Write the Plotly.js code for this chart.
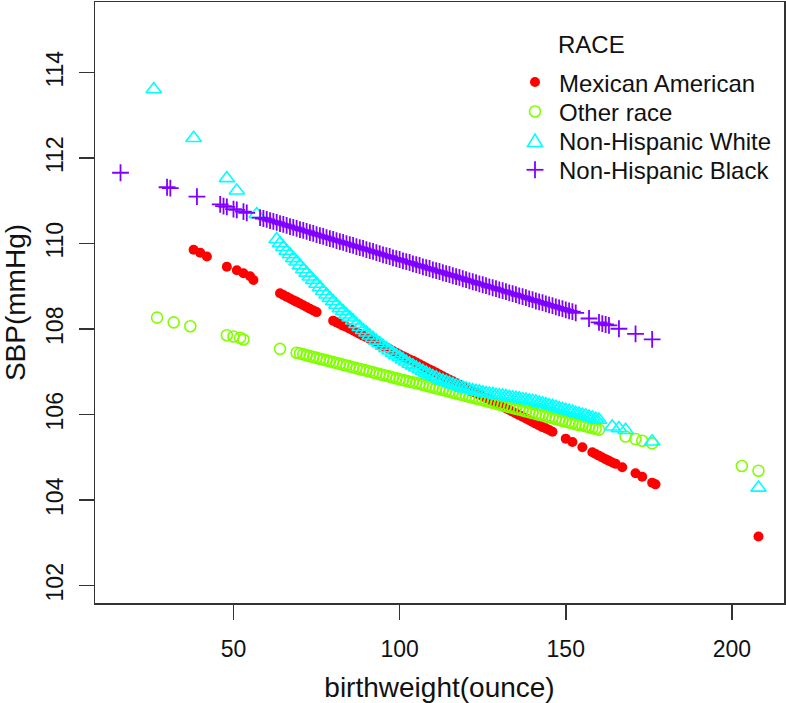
<!DOCTYPE html>
<html>
<head>
<meta charset="utf-8">
<script src="https://cdn.plot.ly/plotly-3.0.1.min.js"></script>
<style>
html,body{margin:0;padding:0;background:#fff;}
#chart{width:786px;height:703px;}
</style>
</head>
<body>
<div id="chart"></div>
<script>
// ---- data ----
const seriesNames = ["Mexican American", "Other race", "Non-Hispanic White", "Non-Hispanic Black"];
const legendTitle = "RACE";
const xTicks = [50, 100, 150, 200];
const yTicks = [102, 104, 106, 108, 110, 112, 114];

const mexX = [38,40,42,48,51,53,55,56,64,65,66,67,68,69,70,71,72,73,74,75,
  80,81,82,83,84,85,86,87,88,89,90,91,92,93,94,95,96,97,98,99,
  100,101,102,103,104,105,106,107,108,109,110,111,112,113,114,115,116,117,118,119,
  120,121,122,123,124,125,126,127,128,129,130,131,132,133,134,135,136,137,138,139,
  140,141,142,143,144,145,146,150,152,155,158,159,160,161,162,163,164,165,167,171,173,176,177,208];
const mexY = [109.86,109.79,109.70,109.46,109.38,109.31,109.24,109.15,108.84,108.80,108.76,108.72,108.68,108.64,108.60,108.56,108.52,108.48,108.44,108.40,
  108.20,108.16,108.12,108.08,108.05,108.01,107.97,107.93,107.89,107.85,
  107.81,107.77,107.73,107.69,107.65,107.61,107.57,107.53,107.49,107.45,
  107.41,107.37,107.33,107.29,107.26,107.22,107.18,107.14,107.10,107.06,
  107.02,106.98,106.94,106.90,106.86,106.82,106.78,106.74,106.70,106.66,
  106.62,106.58,106.54,106.50,106.47,106.43,106.39,106.35,106.31,106.27,
  106.23,106.19,106.15,106.11,106.07,106.03,105.99,105.95,105.91,105.87,
  105.83,105.79,105.75,105.71,105.68,105.64,105.60,
  105.44,105.36,105.24,105.12,105.08,105.04,105.00,104.96,104.92,104.88,104.85,104.77,104.63,104.55,104.41,104.37,103.15];

const otherX = [27,32,37,48,50,52,53,64,
  69,70,71,72,73,74,75,76,77,78,79,80,81,82,83,84,85,86,87,88,89,90,91,92,93,94,95,96,97,98,99,
  100,101,102,103,104,105,106,107,108,109,110,111,112,113,114,115,116,117,118,119,
  120,121,122,123,124,125,126,127,128,129,130,131,132,133,134,135,136,137,138,139,
  140,141,142,143,144,145,146,147,148,149,150,151,152,153,154,155,156,157,158,159,160,
  168,171,173,176,203,208];
const otherY = [108.27,108.16,108.07,107.86,107.83,107.80,107.76,107.54,
  107.45,107.43,107.41,107.39,107.37,107.35,107.33,107.31,107.29,107.27,
  107.25,107.23,107.21,107.19,107.17,107.15,107.13,107.11,107.09,107.07,
  107.05,107.03,107.01,106.99,106.97,106.95,106.93,106.91,106.89,106.87,
  106.85,106.83,106.81,106.79,106.77,106.76,106.74,106.72,106.70,106.68,
  106.66,106.64,106.62,106.60,106.58,106.56,106.54,106.52,106.50,106.48,
  106.46,106.44,106.42,106.40,106.38,106.36,106.34,106.32,106.30,106.28,
  106.26,106.24,106.22,106.20,106.18,106.16,106.14,106.12,106.10,106.08,
  106.06,106.04,106.02,106.00,105.98,105.96,105.94,105.92,105.90,105.88,
  105.86,105.84,105.82,105.80,105.78,105.76,105.75,105.73,105.71,105.69,
  105.67,105.65,
  105.49,105.43,105.39,105.33,104.80,104.69];

const whiteX = [26,38,48,51,57,
  63,64,65,66,67,68,69,70,71,72,73,74,75,76,77,78,79,80,81,82,83,84,85,86,87,88,89,90,91,92,93,94,95,96,97,98,99,
  100,101,102,103,104,105,106,107,108,109,110,111,112,113,114,115,116,117,118,119,
  120,121,122,123,124,125,126,127,128,129,130,131,132,133,134,135,136,137,138,139,
  140,141,142,143,144,145,146,147,148,149,150,151,152,153,154,155,156,157,158,159,160,
  164,166,168,176,208];
const whiteY = [113.61,112.47,111.53,111.24,110.69,
  110.10,110.01,109.92,109.83,109.75,109.66,109.58,109.49,109.40,109.32,
  109.23,109.15,109.06,108.98,108.89,108.81,108.73,108.65,108.57,108.49,
  108.42,108.34,108.27,108.20,108.12,108.05,107.98,107.92,107.85,107.79,
  107.73,107.67,107.61,107.55,107.50,107.44,107.39,107.34,107.29,107.24,
  107.19,107.15,107.10,107.06,107.02,106.98,106.94,106.90,106.87,106.83,
  106.80,106.77,106.74,106.71,106.68,106.66,106.63,106.61,106.59,106.57,
  106.55,106.54,106.52,106.50,106.49,106.48,106.46,106.45,106.44,106.43,
  106.41,106.40,106.39,106.38,106.36,106.35,106.33,106.32,106.30,106.28,
  106.26,106.24,106.22,106.20,106.18,106.15,106.13,106.11,106.09,106.07,
  106.04,106.02,106.00,105.98,105.95,105.93,105.90,105.88,
  105.72,105.68,105.64,105.37,104.29];

const blackX = [16,30,31,39,46,47,48,50,51,53,54,
  58,59,60,61,62,63,64,65,66,67,68,69,70,71,72,73,74,75,76,77,78,79,80,81,82,83,84,85,86,87,88,89,90,91,92,93,94,95,96,97,98,99,
  100,101,102,103,104,105,106,107,108,109,110,111,112,113,114,115,116,117,118,119,
  120,121,122,123,124,125,126,127,128,129,130,131,132,133,134,135,136,137,138,139,
  140,141,142,143,144,145,146,147,148,149,150,151,152,153,
  157,160,161,162,163,166,171,176];
const blackY = [111.66,111.32,111.30,111.10,110.92,110.88,110.86,110.81,110.79,110.75,110.72,
  110.61,110.59,110.57,110.54,110.52,110.50,110.47,110.45,110.43,110.40,
  110.38,110.36,110.33,110.31,110.29,110.26,110.24,110.21,110.19,110.17,
  110.14,110.12,110.10,110.07,110.05,110.03,110.00,109.98,109.96,109.93,
  109.91,109.89,109.86,109.84,109.82,109.79,109.77,109.74,109.72,109.70,
  109.67,109.65,109.63,109.60,109.58,109.56,109.53,109.51,109.49,109.46,
  109.44,109.42,109.39,109.37,109.35,109.32,109.30,109.28,109.25,109.23,
  109.21,109.18,109.16,109.13,109.11,109.09,109.06,109.04,109.02,108.99,
  108.97,108.95,108.92,108.90,108.88,108.85,108.83,108.81,108.78,108.76,
  108.74,108.71,108.69,108.66,108.64,108.62,108.59,108.57,108.55,108.52,
  108.50,108.48,108.45,108.43,108.41,108.38,
  108.25,108.16,108.13,108.11,108.09,108.01,107.89,107.76];

// ---- styles ----
const colors = ['#FF0000', '#80FF00', '#00FFFF', '#8000FF'];

const traces = [
  {x: mexX, y: mexY, name: seriesNames[0], type: 'scatter', mode: 'markers',
   marker: {symbol: 'circle', size: 10, color: colors[0], line: {width: 0}}},
  {x: otherX, y: otherY, name: seriesNames[1], type: 'scatter', mode: 'markers',
   marker: {symbol: 'circle-open', size: 11, color: colors[1], line: {width: 1.6, color: colors[1]}}},
  {x: whiteX, y: whiteY, name: seriesNames[2], type: 'scatter', mode: 'markers',
   marker: {symbol: 'triangle-up-open', size: 13.5, color: colors[2], line: {width: 1.6, color: colors[2]}}},
  {x: blackX, y: blackY, name: seriesNames[3], type: 'scatter', mode: 'markers',
   marker: {symbol: 'cross-thin-open', size: 12, color: colors[3], line: {width: 1.8, color: colors[3]}}}
];

// plot-area geometry in pixels (used to place the R-style legend)
const PL = 95, PW = 689, PT = 2, PH = 601;
const px2x = px => (px - PL) / PW;
const py2y = py => (PT + PH - py) / PH;

// legend layout (pixels)
const keyX = 535, textX = 557;
const rowY = [82, 111.5, 140.5, 169.8];

const annotations = [{
  text: legendTitle, xref: 'paper', yref: 'paper', x: px2x(591), y: py2y(44.5),
  xanchor: 'center', yanchor: 'middle', showarrow: false, font: {size: 24, color: '#111'}
}];
seriesNames.forEach((nm, i) => annotations.push({
  text: nm, xref: 'paper', yref: 'paper', x: px2x(textX), y: py2y(rowY[i] + 1),
  xanchor: 'left', yanchor: 'middle', showarrow: false, font: {size: 24, color: '#111'}
}));

const P = (px, py) => px2x(px).toFixed(5) + ',' + py2y(py).toFixed(5);
const shapes = [
  {type: 'circle', xref: 'paper', yref: 'paper',
   x0: px2x(keyX - 5), x1: px2x(keyX + 5), y0: py2y(rowY[0] + 5), y1: py2y(rowY[0] - 5),
   fillcolor: colors[0], line: {width: 0}},
  {type: 'circle', xref: 'paper', yref: 'paper',
   x0: px2x(keyX - 5.5), x1: px2x(keyX + 5.5), y0: py2y(rowY[1] + 5.5), y1: py2y(rowY[1] - 5.5),
   fillcolor: 'rgba(0,0,0,0)', line: {width: 1.6, color: colors[1]}},
  {type: 'path', xref: 'paper', yref: 'paper',
   path: 'M' + P(keyX - 7.5, rowY[2] + 6) + 'L' + P(keyX + 7.5, rowY[2] + 6) + 'L' + P(keyX, rowY[2] - 6.5) + 'Z',
   fillcolor: 'rgba(0,0,0,0)', line: {width: 1.6, color: colors[2]}},
  {type: 'line', xref: 'paper', yref: 'paper',
   x0: px2x(keyX - 8.5), x1: px2x(keyX + 8.5), y0: py2y(rowY[3]), y1: py2y(rowY[3]),
   line: {width: 1.8, color: colors[3]}},
  {type: 'line', xref: 'paper', yref: 'paper',
   x0: px2x(keyX), x1: px2x(keyX), y0: py2y(rowY[3] - 8.5), y1: py2y(rowY[3] + 8.5),
   line: {width: 1.8, color: colors[3]}}
];

const axisCommon = {
  showgrid: false, zeroline: false, showline: true, mirror: true,
  linecolor: '#333', linewidth: 1.5,
  ticks: 'outside', ticklen: 15, tickwidth: 1.5, tickcolor: '#333',
  tickfont: {size: 23, color: '#111'}, automargin: false
};

const layout = {
  width: 786, height: 703,
  margin: {l: PL, r: 786 - PL - PW, t: PT, b: 703 - PT - PH},
  paper_bgcolor: '#ffffff', plot_bgcolor: '#ffffff',
  font: {family: 'Liberation Sans, Arial, Helvetica, sans-serif', color: '#111'},
  showlegend: false,
  xaxis: Object.assign({}, axisCommon, {
    range: [8.32, 215.68], tickmode: 'array', tickvals: xTicks, ticklabelstandoff: 10,
    title: {text: 'birthweight(ounce)', font: {size: 28, color: '#111'}, standoff: 18}
  }),
  yaxis: Object.assign({}, axisCommon, {
    range: [101.595, 115.654], tickmode: 'array', tickvals: yTicks, tickangle: -90, ticklabelstandoff: 6,
    title: {text: 'SBP(mmHg)', font: {size: 28, color: '#111'}, standoff: 17}
  }),
  annotations: annotations,
  shapes: shapes
};

Plotly.newPlot('chart', traces, layout, {displayModeBar: false, staticPlot: true});
</script>
</body>
</html>
